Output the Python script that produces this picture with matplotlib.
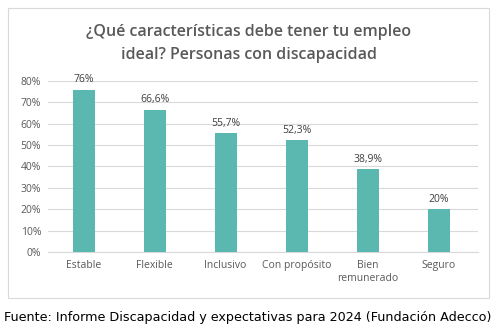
import matplotlib
matplotlib.use("Agg")
import matplotlib.pyplot as plt
from matplotlib.patches import Rectangle
from matplotlib.ticker import PercentFormatter

categories = ["Estable", "Flexible", "Inclusivo", "Con propósito", "Bien\nremunerado", "Seguro"]
values = [76, 66.6, 55.7, 52.3, 38.9, 20]
labels = ["76%", "66,6%", "55,7%", "52,3%", "38,9%", "20%"]
yticks = [0, 10, 20, 30, 40, 50, 60, 70, 80]

W, H = 498, 335
fig = plt.figure(figsize=(W/100, H/100), dpi=100)
fig.patch.set_facecolor("white")

# chart border
fig.add_artist(Rectangle((8/W, 1-298/H), (489-8)/W, (298-8)/H, transform=fig.transFigure,
                         fill=False, edgecolor="#D9D9D9", linewidth=0.8))

ax = fig.add_axes([48/W, 1-252/H, (478-48)/W, (252-81)/H])
gray = "#595959"
x = range(len(categories))
ax.bar(x, values, width=0.31, color="#5BB8B0", zorder=3)
for xi, v, l in zip(x, values, labels):
    ax.text(xi, v + 2, l, ha="center", va="bottom", fontsize=7.5, color="#404040", family="Open Sans")
ax.set_ylim(0, 80)
ax.set_xlim(-0.5, 5.55)
ax.set_yticks(yticks)
ax.yaxis.set_major_formatter(PercentFormatter(decimals=0))
ax.set_xticks(list(x))
ax.set_xticklabels(categories, family="Open Sans", fontsize=7.5, color=gray)
for t in ax.get_yticklabels():
    t.set_family("Open Sans"); t.set_fontsize(7.5); t.set_color(gray)
ax.tick_params(length=0, pad=6)
ax.tick_params(axis="y", pad=5)
ax.grid(axis="y", color="#D9D9D9", linewidth=0.8, zorder=0)
for s in ["left", "right", "top"]:
    ax.spines[s].set_visible(False)
ax.spines["bottom"].set_color("#D9D9D9")
ax.spines["bottom"].set_linewidth(0.8)

fig.text(0.5, 1-32/H, "¿Qué características debe tener tu empleo", ha="center", va="center",
         fontsize=11.5, fontweight="semibold", family="Open Sans", color=gray)
fig.text(0.5, 1-55/H, "ideal? Personas con discapacidad", ha="center", va="center",
         fontsize=11.5, fontweight="semibold", family="Open Sans", color=gray)

fig.text(248/W, 1-318/H, "Fuente: Informe Discapacidad y expectativas para 2024 (Fundación Adecco)",
         ha="center", va="center", fontsize=9.2, family="DejaVu Sans", color="black")

fig.savefig("out.png", dpi=100)
